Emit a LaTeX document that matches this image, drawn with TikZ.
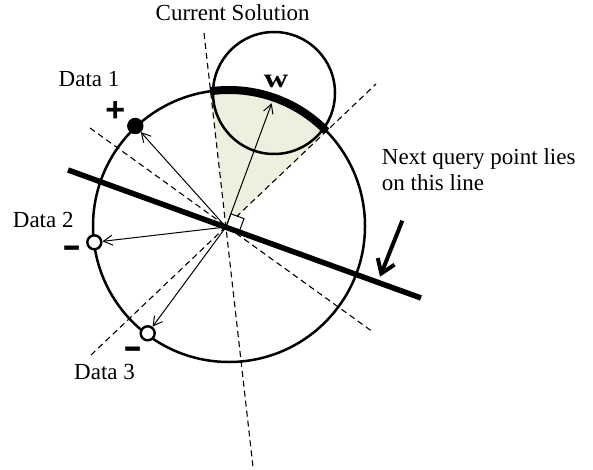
\documentclass[tikz,border=0pt]{standalone}
\usepackage{fontspec}
\setmainfont{Liberation Serif}
\newfontfamily\signfont{Liberation Sans}
\usetikzlibrary{arrows.meta,calc}
\definecolor{shadegreen}{RGB}{235,241,222}
\begin{document}
\begin{tikzpicture}[x=1pt,y=-1pt,
  thinarrow/.style={line width=1pt,-{Straight Barb[length=9pt,width=10pt]}},
  hyper/.style={line width=1.1pt,dash pattern=on 6pt off 4pt},
  datapt/.style={circle,draw,line width=2.4pt,minimum size=14pt,inner sep=0pt},
  lbl/.style={font=\fontsize{23}{26}\selectfont,anchor=base west,inner sep=0pt},
  plussign/.style={font=\signfont\bfseries\fontsize{34}{34}\selectfont,inner sep=0pt,anchor=base},
  minussign/.style={font=\signfont\bfseries\fontsize{36}{36}\selectfont,inner sep=0pt,anchor=base},
  ring/.style={line width=2.5pt}
]
\useasboundingbox (0,0) rectangle (593,470);
% key points
\coordinate (O) at (226,227);
\coordinate (C) at (229,226);
\coordinate (A) at (210.2,91.3);
\coordinate (B) at (326.6,131.3);
% version space (shaded)
\fill[shadegreen] (O) -- (A) arc[start angle=97.95,end angle=44.13,radius=136pt] -- cycle;
% hyperplanes of the data
\coordinate (dvT) at (204,33);  \coordinate (dvB) at (253,467);
\coordinate (d1a) at (91,355);  \coordinate (d1b) at (376,84);
\coordinate (d3a) at (90,128);  \coordinate (d3b) at (373,332);
\draw[hyper] (dvT) -- (dvB);
\draw[hyper] (d1a) -- (d1b);
\draw[hyper] (d3a) -- (d3b);
% circles
\draw[ring] (C) circle[radius=136pt];
\draw[ring] (274,93) circle[radius=61pt];
\draw[line width=8pt] (A) arc[start angle=97.95,end angle=44.13,radius=136pt];
% right angle mark
\coordinate (r1) at (230.85,213.87);
\coordinate (r2) at (244.0,218.64);
\coordinate (r3) at (239.16,231.77);
\filldraw[fill=white,line width=1pt] (O) -- (r1) -- (r2) -- (r3) -- cycle;
% data points
\node[datapt,fill=black] (d1) at (135.3,126) {};
\node[datapt,fill=white] (d2) at (94.3,242.3) {};
\node[datapt,fill=white] (d3) at (147.7,333.3) {};
\coordinate (wtip) at (271.7,103.3);
\draw[thinarrow] (O) -- (d1);
\draw[thinarrow] (O) -- (d2);
\draw[thinarrow] (O) -- (d3);
\draw[thinarrow] (O) -- (wtip);
% query line
\coordinate (qa) at (68,170);
\coordinate (qb) at (421,298);
\draw[line width=5.5pt] (qa) -- (qb);
% pointer arrow
\coordinate (ha) at (402.3,220.7);
\coordinate (hb) at (380,276.7);
\draw[line width=4pt,-{Straight Barb[length=13pt,width=18pt]}] (ha) -- (hb);
% labels
\node[lbl] (cs) at (155.5,20.7) {Current Solution};
\node[lbl] (t1) at (58.5,87) {Data 1};
\node[lbl] (t2) at (12.7,227.3) {Data 2};
\node[lbl] (t3) at (74,379.3) {Data 3};
\node[lbl] (nq1) at (381.7,165) {Next query point lies};
\node[lbl] (nq2) at (381.7,190.7) {on this line};
\node[font=\bfseries\fontsize{27}{27}\selectfont,anchor=base,inner sep=0pt] (wl) at (276,87.3) {\scalebox{1.25}[1]{w}};
\node[plussign] (p1) at (115.3,122) {+};
\node[minussign] (m2) at (72.5,257) {\scalebox{1.6}[1]{-}};
\node[minussign] (m3) at (133.3,358) {\scalebox{1.6}[1]{-}};
\end{tikzpicture}
\end{document}
